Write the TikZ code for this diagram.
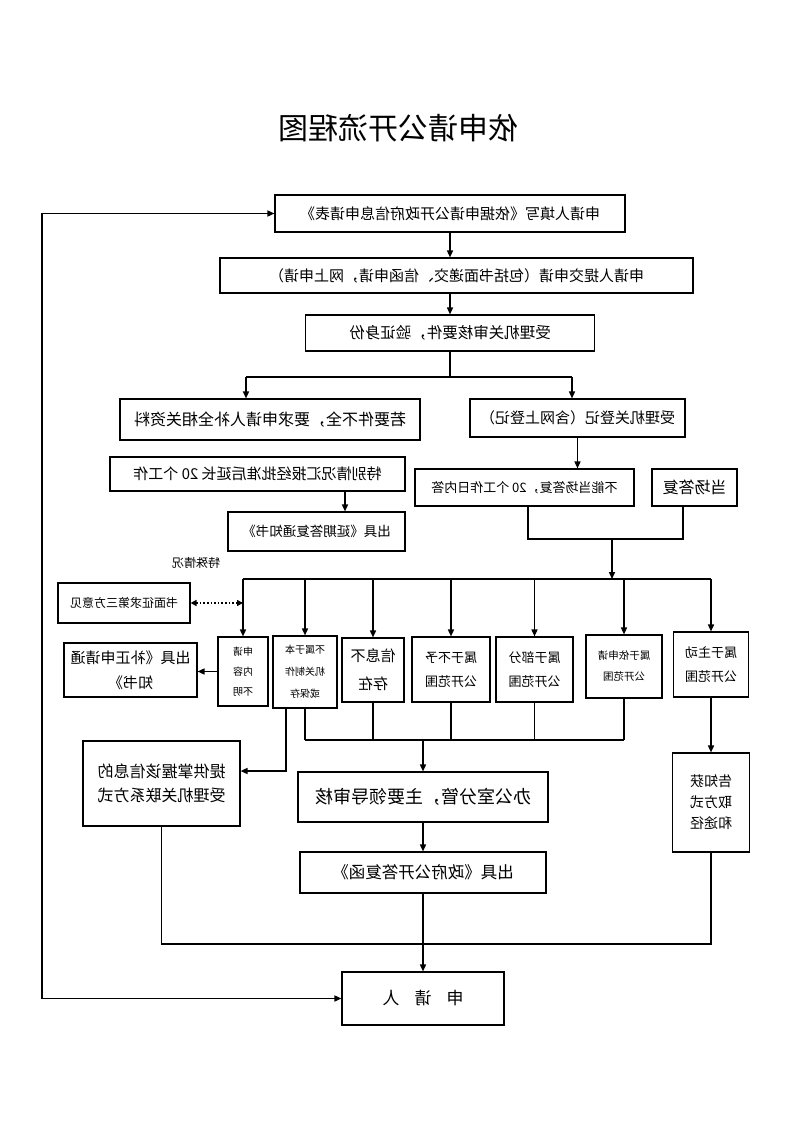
\documentclass[tikz,border=0pt]{standalone}
\usepackage{fontspec}
\setmainfont{Noto Sans CJK SC}
\usetikzlibrary{arrows.meta}
\newcommand{\fz}[2]{\fontsize{#1}{#2}\selectfont}
\begin{document}
\begin{tikzpicture}[x=1pt,y=-1pt,
  box/.style={draw, line width=1.1pt, xscale=-1, inner sep=0pt, align=center},
  lbl/.style={xscale=-1, inner sep=0pt, align=center},
  ln/.style={line width=1.5pt},
  arr/.style={line width=1.5pt, -{Triangle[length=7pt,width=6pt]}},
  dotarr/.style={line width=1.6pt, dotted, {Triangle[length=6pt,width=6pt]}-{Triangle[length=6pt,width=6pt]}}]
\fill[white] (0,0) rectangle (793,1122);
\useasboundingbox (0,0) rectangle (793,1122);

\node[lbl, font=\fz{30}{36}] (title) at (398,128) {依申请公开流程图};

\node[box, minimum width=350pt, minimum height=37pt, font=\fz{15}{18}] (b1) at (450,213.5) {申请人填写《依据申请公开政府信息申请表》};
\node[box, minimum width=473pt, minimum height=35pt, font=\fz{15}{18}] (b2) at (456.5,275.5) {申请人提交申请（包括书面递交、信函申请，网上申请）};
\node[box, minimum width=289pt, minimum height=36pt, font=\fz{15.5}{18}] (b3) at (450,333) {受理机关审核要件，验证身份};
\node[box, minimum width=300pt, minimum height=41pt, font=\fz{16}{18}] (b4) at (270,419.5) {若要件不全，要求申请人补全相关资料};
\node[box, minimum width=215pt, minimum height=38pt, font=\fz{15}{18}] (b5) at (577.5,418) {受理机关登记（含网上登记）};
\node[box, minimum width=295pt, minimum height=34pt, font=\fz{15}{18}] (b6) at (257.5,474) {特别情况汇报经批准后延长 20 个工作};
\node[box, minimum width=177pt, minimum height=39pt, font=\fz{13.5}{18}] (b7) at (316.5,531.5) {出具《延期答复通知书》};
\node[box, minimum width=219pt, minimum height=37pt, font=\fz{13}{18}] (b8) at (524.5,487.5) {不能当场答复，20 个工作日内答};
\node[box, minimum width=85pt, minimum height=37pt, font=\fz{16}{18}] (b9) at (694.5,487.5) {当场答复};

\node[lbl, font=\fz{12}{14}] (tq) at (196,563) {特殊情况};
\node[box, minimum width=132pt, minimum height=40pt, font=\fz{12}{14}] (d3) at (124,603) {书面征求第三方意见};

\node[box, minimum width=50pt, minimum height=69pt, font=\fz{10}{20}] (s1) at (243,671.5) {申请\\内容\\不明};
\node[box, minimum width=64pt, minimum height=72pt, font=\fz{10}{22}] (s2) at (305,672) {不属于本\\机关制作\\或保存};
\node[box, minimum width=62pt, minimum height=64pt, font=\fz{15}{28}] (s3) at (373,670) {信息不\\存在};
\node[box, minimum width=78pt, minimum height=65pt, font=\fz{13}{24}] (s4) at (451,669.5) {属于不予\\公开范围};
\node[box, minimum width=77pt, minimum height=65pt, font=\fz{13}{24}] (s5) at (534.5,669.5) {属于部分\\公开范围};
\node[box, minimum width=76pt, minimum height=63pt, font=\fz{10.5}{21}] (s6) at (624,666.5) {属于依申请\\公开范围};
\node[box, minimum width=75pt, minimum height=65pt, font=\fz{13}{24}] (s7) at (711,664.5) {属于主动\\公开范围};

\node[box, minimum width=133pt, minimum height=54pt, font=\fz{15}{25}] (bz) at (130.5,670) {出具《补正申请通\\知书》};
\node[box, minimum width=157pt, minimum height=85pt, font=\fz{16}{24}] (tg) at (161.5,783.5) {提供掌握该信息的\\受理机关联系方式};
\node[box, minimum width=77pt, minimum height=99pt, font=\fz{14}{21}] (gz) at (711,802.5) {告知获\\取方式\\和途径};
\node[box, minimum width=250pt, minimum height=50pt, font=\fz{18}{20}] (bg) at (423,797) {办公室分管，主要领导审核};
\node[box, minimum width=246pt, minimum height=41pt, font=\fz{16.5}{20}] (hf) at (423,872.5) {出具《政府公开答复函》};
\node[box, minimum width=162pt, minimum height=53pt, font=\fz{17}{20}] (sq) at (423,998.5) {申\hspace{15pt}请\hspace{15pt}人};

% top chain
\draw[arr] (b1.south) -- (b1.south |- b2.north);
\draw[arr] (b3.north |- b2.south) -- (b3.north);
\coordinate (sp) at (450,377);
\coordinate (L1) at (246,377);
\coordinate (R1) at (572,377);
\draw[ln] (b3.south) -- (sp);
\draw[ln] (L1) -- (R1);
\draw[arr] (L1) -- (L1 |- b4.north);
\draw[arr] (R1) -- (R1 |- b5.north);
\coordinate (c67) at (345,491);
\draw[arr] (c67) -- (c67 |- b7.north);
\draw[arr] (b5.south) -- (b5.south |- b8.north);
\coordinate (m8) at (528,506);
\coordinate (m9) at (683,506);
\coordinate (mj) at (612,539);
\draw[ln] (m8) |- (mj);
\draw[ln] (m9) |- (mj);
\coordinate (bl) at (243,579);
\draw[arr] (mj) -- (mj |- bl);
\draw[ln] (s1.north |- bl) -- (s7.north |- bl);
\foreach \n in {s1,s2,s3,s4,s5,s6,s7} \draw[arr] (\n.north |- bl) -- (\n.north);
\draw[dotarr] (d3.west) -- (d3.west -| bl);

% lower
\draw[arr] (s1.east) -- (s1.east -| bz.west);
\coordinate (c2a) at (286,708);
\draw[arr] (c2a) |- (tg.west |- 0,771);
\coordinate (lb) at (305,740);
\foreach \n in {s2,s3,s4,s5,s6} \draw[ln] (\n.south) -- (\n.south |- lb);
\draw[ln] (s2.south |- lb) -- (s6.south |- lb);
\draw[arr] (bg.north |- lb) -- (bg.north);
\draw[arr] (bg.south) -- (hf.north);
\draw[arr] (hf.south) -- (sq.north);
\draw[arr] (s7.south) -- (gz.north);
\coordinate (bot) at (423,944);
\draw[ln] (tg.south) |- (bot) -| (gz.south);
\coordinate (fb) at (42,600);
\draw[arr] (fb) |- (b1.east);
\draw[arr] (fb) |- (sq.east);
\end{tikzpicture}
\end{document}
